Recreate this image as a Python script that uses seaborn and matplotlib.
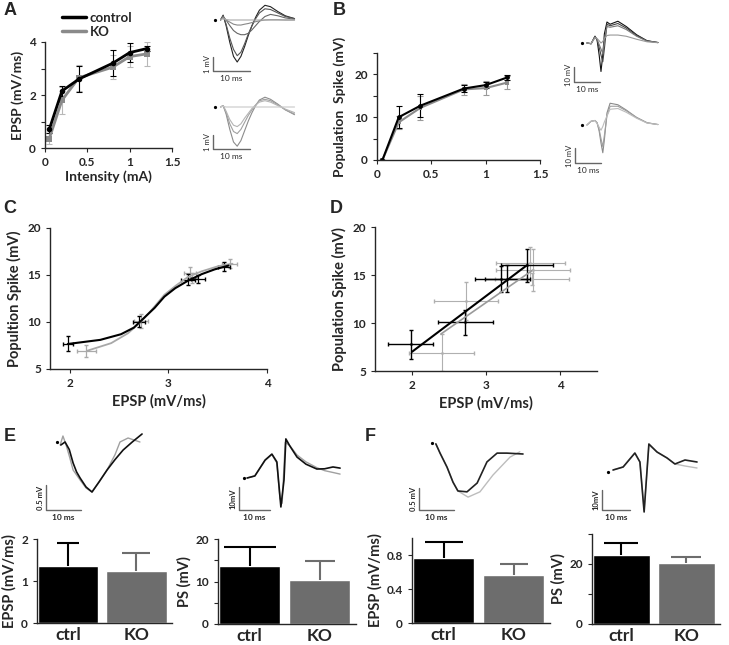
import numpy as np
import pandas as pd
import matplotlib
matplotlib.use('Agg')
import matplotlib.pyplot as plt
import seaborn as sns
from matplotlib.lines import Line2D

W, H = 729, 645

# ---- A / B: input-output curves
intensity = [0.05, 0.2, 0.4, 0.8, 1.0, 1.2]
epsp_ctrl = [0.7, 2.15, 2.6, 3.2, 3.6, 3.75]
epsp_ctrl_err = [0.15, 0.2, 0.5, 0.5, 0.35, 0.1]
epsp_ko = [0.35, 1.8, 2.65, 3.05, 3.45, 3.55]
epsp_ko_err = [0.2, 0.5, 0.5, 0.45, 0.4, 0.45]

ps_ctrl = [0.0, 10.0, 12.7, 16.7, 17.5, 19.3]
ps_ctrl_err = [0.0, 2.6, 2.7, 0.8, 0.7, 0.6]
ps_ko = [0.0, 8.8, 12.2, 16.5, 16.8, 18.1]
ps_ko_err = [0.0, 1.5, 2.8, 1.3, 1.7, 1.6]

# ---- C: E-S coupling, sigmoid fits
c_ctrl_x = [1.98, 2.7, 3.2, 3.3, 3.56]
c_ctrl_y = [7.7, 10.05, 14.5, 14.6, 15.9]
c_ctrl_xerr = [0.05, 0.06, 0.07, 0.07, 0.06]
c_ctrl_yerr = [0.8, 0.6, 0.6, 0.4, 0.5]
c_ko_x = [2.17, 2.72, 3.22, 3.24, 3.62]
c_ko_y = [6.9, 10.1, 15.2, 14.7, 16.2]
c_ko_xerr = [0.1, 0.07, 0.06, 0.05, 0.08]
c_ko_yerr = [0.6, 0.7, 0.6, 0.5, 0.5]
fit_ctrl_x = [1.98, 2.31, 2.52, 2.65, 2.75, 2.86, 2.96, 3.07, 3.2, 3.34, 3.47, 3.61]
fit_ctrl_y = [7.66, 8.1, 8.7, 9.4, 10.4, 11.5, 12.7, 13.6, 14.4, 15.1, 15.6, 16.0]
fit_ko_x = [2.18, 2.42, 2.59, 2.72, 2.84, 2.96, 3.08, 3.2, 3.34, 3.51, 3.65]
fit_ko_y = [6.95, 7.75, 8.8, 10.0, 11.4, 12.9, 13.9, 14.8, 15.4, 15.95, 16.2]

# ---- D: linear fits
d_ctrl_x = [1.98, 2.72, 3.2, 3.29, 3.55]
d_ctrl_y = [7.8, 10.1, 14.6, 14.6, 16.0]
d_ctrl_xerr = [0.3, 0.37, 0.35, 0.3, 0.35]
d_ctrl_yerr = [1.5, 1.3, 1.35, 1.4, 1.7]
d_ko_x = [2.4, 2.73, 3.6, 3.63, 3.62]
d_ko_y = [6.9, 12.3, 16.25, 15.5, 14.6]
d_ko_xerr = [0.44, 0.43, 0.47, 0.5, 0.5]
d_ko_yerr = [1.95, 2.0, 1.7, 2.2, 0.6]
lin_ctrl_x = [2.0, 3.55]
lin_ctrl_y = [7.0, 16.0]
lin_ko_x = [2.39, 3.63]
lin_ko_y = [8.85, 15.5]

# ---- E / F: bar summaries
groups = ['ctrl', 'KO']
e_epsp = [1.36, 1.25]
e_epsp_err = [0.54, 0.42]
e_ps = [13.7, 10.35]
e_ps_err = [4.5, 4.55]
f_epsp = [0.77, 0.57]
f_epsp_err = [0.18, 0.12]
f_ps = [23.0, 20.3]
f_ps_err = [4.0, 2.0]

# ---- example traces (ms, mV)
tA = [1.5, 2.2, 3.0, 4.0, 5.0, 6.0, 7.0, 8.0, 9.0, 10.0, 11.0, 12.0, 13.5, 15.0, 17.0, 19.0, 21.5]
a_ctrl_traces = [
    [0, 0.35, -0.4, -1.6, -2.6, -3.0, -2.6, -1.9, -1.1, -0.4, 0.2, 0.7, 1.05, 0.95, 0.6, 0.3, 0.1],
    [0, 0.3, -0.3, -1.3, -2.1, -2.55, -2.3, -1.7, -1.0, -0.4, 0.1, 0.5, 0.8, 0.75, 0.5, 0.25, 0.1],
    [0, 0.25, 0.0, -0.4, -0.75, -0.95, -1.05, -1.05, -0.95, -0.7, -0.4, -0.1, 0.25, 0.4, 0.3, 0.15, 0.05],
    [0, 0.2, 0.0, -0.15, -0.3, -0.36, -0.36, -0.3, -0.25, -0.18, -0.12, -0.06, 0.0, 0.02, 0.02, 0.0, 0.0],
    [0, 0.1, 0.03, 0, 0, 0, 0, 0, 0, 0, 0, 0, 0, 0, 0, 0, 0],
]
a_ko_traces = [
    [0, 0.1, -0.5, -1.6, -2.5, -2.8, -2.4, -1.7, -1.0, -0.4, 0.1, 0.5, 0.7, 0.55, 0.2, -0.2, -0.55],
    [0, 0.1, -0.4, -1.2, -1.75, -1.9, -1.6, -1.1, -0.6, -0.2, 0.15, 0.45, 0.55, 0.45, 0.15, -0.2, -0.5],
    [0, 0.1, -0.3, -0.9, -1.3, -1.4, -1.2, -0.8, -0.45, -0.1, 0.15, 0.35, 0.45, 0.35, 0.1, -0.15, -0.4],
    [0, 0.05, 0, 0, 0, 0, 0, 0, 0, 0, 0, 0, 0, 0, 0, 0, 0],
]
tB = [1.9, 3.5, 5.0, 5.8, 6.6, 7.3, 8.0, 8.6, 9.6, 10.8, 13.8, 17.0, 21.0, 25.0, 29.2]
b_ctrl_traces = [
    [0, -0.5, 4.5, 2, -8, -19, -8, 6, 14, 12.5, 14.5, 11, 5.5, 1.5, 0.3],
    [0, -0.5, 4.5, 2, -3, -8, -12.5, -4, 12.5, 11.5, 13.0, 10, 5, 1.5, 0.3],
    [0, -0.5, 4.0, 2.5, -1, -4, -7, 2, 11, 10.5, 11.5, 9, 4.5, 1.2, 0.3],
    [0, -0.3, 3.5, 3.0, 1.5, 0, 1, 3, 5, 5.3, 5.3, 4.5, 2.5, 0.8, 0.2],
]
b_ko_traces = [
    [0, 2.5, 3.0, 1.5, -4, -12, -18.5, -10, 8, 14.5, 13.5, 10, 5, 1.5, 0.3],
    [0, 2.5, 3.0, 1.5, -3, -9, -14.5, -7, 6, 12.5, 12.5, 9.5, 5, 1.5, 0.3],
    [0, 2.5, 3.0, 1.0, -1.5, -3.5, -1, 2, 6, 10.5, 11, 8.5, 4.5, 1.3, 0.3],
]
eL_t_ctrl = [1.1, 2.3, 3.5, 4.6, 5.6, 6.6, 8.3, 10.0, 12.0, 14.3, 16.6, 18.9, 21.5, 24.3]
eL_v_ctrl = [-0.06, 0.0, -0.15, -0.42, -0.6, -0.72, -0.9, -1.0, -0.8, -0.56, -0.35, -0.16, 0.0, 0.16]
eL_t_ko = [0.9, 1.7, 2.6, 3.6, 4.6, 6.6, 8.3, 10.0, 12.0, 14.3, 16.6, 18.0, 20.3, 23.7]
eL_v_ko = [-0.06, 0.12, -0.06, -0.3, -0.56, -0.76, -0.92, -1.0, -0.8, -0.56, -0.25, 0.0, 0.08, 0.0]
eR_t_ctrl = [1, 3.5, 6.8, 9, 10.6, 11.9, 12.9, 13.5, 14.8, 17.1, 20, 23.5, 26, 28.7, 31]
eR_v_ctrl = [0, 0.9, 7.8, 10.4, 7, -12.6, -0.9, 17, 13.9, 9.1, 6, 3.9, 4, 4.8, 4.3]
eR_t_ko = [1, 3.5, 6.8, 9, 10.6, 11.6, 12.3, 13.3, 14.8, 17.1, 20, 23.5, 26, 28.7, 31]
eR_v_ko = [0, 0.9, 7.6, 10.2, 6.5, -9, -11, 15.5, 14.0, 10.0, 7, 4.5, 3.2, 2.4, 1.7]
fL_t_ctrl = [1.1, 2.3, 4.3, 6.0, 7.4, 10.0, 12.9, 15.7, 18.6, 21.4, 26.0]
fL_v_ctrl = [-0.02, -0.23, -0.55, -0.89, -1.09, -1.11, -0.91, -0.43, -0.23, -0.23, -0.25]
fL_t_ko = [1.1, 2.3, 4.3, 6.0, 7.4, 10.3, 13.7, 17.4, 22.3, 25.1]
fL_v_ko = [-0.02, -0.23, -0.55, -0.89, -1.09, -1.23, -1.11, -0.73, -0.32, -0.2]
fR_t = [1.8, 5.4, 9.6, 11.4, 12.9, 14.6, 17.5, 21.1, 23.9, 27.5, 31.8]
fR_v_ctrl = [1, 2.5, 9.5, 5, -20, 14, 10, 7, 4, 6, 5]
fR_v_ko = [1, 2.5, 9.3, 5, -19, 13.5, 10, 7, 4, 3, 2]

sns.set_style('ticks')
plt.rcParams['font.family'] = ['Lato', 'DejaVu Sans']
plt.rcParams['font.weight'] = 'bold'
plt.rcParams['axes.labelweight'] = 'bold'
plt.rcParams['axes.linewidth'] = 1.0
plt.rcParams['xtick.major.size'] = 3
plt.rcParams['ytick.major.size'] = 3
plt.rcParams['xtick.labelsize'] = 8.5
plt.rcParams['ytick.labelsize'] = 8.5
plt.rcParams['axes.labelsize'] = 10

fig = plt.figure(figsize=(W / 100, H / 100), dpi=100)
pal = {'control': 'black', 'KO': '#8a8a8a'}


def px_axes(x0, y0, x1, y1):
    return fig.add_axes([x0 / W, 1 - y1 / H, (x1 - x0) / W, (y1 - y0) / H])


def inset(box, dot, pms, pmv, corner, bar_mv, bar_label, traces, bold=False):
    ax = px_axes(*box)
    bx0, by0, bx1, by1 = box
    dx, dy = dot
    ax.set_xlim((bx0 - dx) / pms, (bx1 - dx) / pms)
    ax.set_ylim(-(by1 - dy) / pmv, -(by0 - dy) / pmv)
    ax.axis('off')
    for t, v, c, lw in traces:
        ax.plot(t, v, color=c, lw=lw, clip_on=False)
    ax.plot([0], [0], 'o', ms=1.3, color='black')
    sx = (corner[0] - dx) / pms
    sy = -(corner[1] - dy) / pmv
    ax.plot([sx, sx, sx + 10], [sy + bar_mv, sy, sy], color='#666666', lw=1)
    w = 'bold' if bold else 'normal'
    ax.annotate(bar_label, (sx, sy + bar_mv / 2), xytext=(-1.5, 0), textcoords='offset points',
                rotation=90, ha='right', va='center', fontsize=5.5, weight=w)
    ax.annotate('10 ms', (sx + 5, sy), xytext=(0, -3), textcoords='offset points',
                ha='center', va='top', fontsize=6, weight=w)
    return ax


# ---------------- A
axA = px_axes(45, 42, 172, 148)
dfA = pd.DataFrame({'intensity': intensity * 2, 'value': epsp_ctrl + epsp_ko,
                    'group': ['control'] * 6 + ['KO'] * 6})
axA.errorbar(intensity, epsp_ko, yerr=epsp_ko_err, fmt='none', ecolor='#b8b8b8',
             elinewidth=0.8, capsize=2, capthick=0.8)
axA.errorbar(intensity, epsp_ctrl, yerr=epsp_ctrl_err, fmt='none', ecolor='black',
             elinewidth=0.8, capsize=2, capthick=0.8)
sns.lineplot(data=dfA, x='intensity', y='value', hue='group', style='group',
             hue_order=['KO', 'control'], markers={'control': 'o', 'KO': 's'}, dashes=False,
             palette=pal, linewidth=2, markersize=4, markeredgewidth=0, legend=False, ax=axA)
axA.set_xlim(0, 1.5)
axA.set_ylim(0, 4)
axA.set_xticks([0, 0.5, 1, 1.5], ['0', '0.5', '1', '1.5'])
axA.set_yticks([0, 1, 2, 3, 4], ['0', '', '2', '', '4'])
axA.set_xlabel('Intensity (mA)', labelpad=2)
axA.set_ylabel('EPSP (mV/ms)', labelpad=4)
sns.despine(ax=axA)
handles = [Line2D([], [], color='black', lw=2.5), Line2D([], [], color='#8a8a8a', lw=2.5)]
fig.legend(handles, ['control', 'KO'], loc='upper left', bbox_to_anchor=(50 / W, 1 - 0 / H),
           frameon=False, handlelength=1.8, handletextpad=0.3, labelspacing=0.15,
           prop={'size': 9.5, 'weight': 'bold'})

inset((195, 0, 300, 88), (215, 20), 3.7, 14, (213, 71), 1, '1 mV',
      [(tA, v, c, 0.8) for v, c in zip(a_ctrl_traces, ['#222222', '#555555', '#666666', '#888888', '#aaaaaa'])])
inset((195, 88, 300, 175), (215, 107), 3.7, 14, (213, 149), 1, '1 mV',
      [(tA, v, c, 0.8) for v, c in zip(a_ko_traces, ['#8c8c8c', '#a0a0a0', '#b4b4b4', '#c8c8c8'])])

# ---------------- B
axB = px_axes(377, 53, 540, 160)
dfB = pd.DataFrame({'intensity': intensity * 2, 'value': ps_ctrl + ps_ko,
                    'group': ['control'] * 6 + ['KO'] * 6})
axB.errorbar(intensity, ps_ko, yerr=ps_ko_err, fmt='none', ecolor='#9a9a9a',
             elinewidth=0.8, capsize=2, capthick=0.8)
axB.errorbar(intensity, ps_ctrl, yerr=ps_ctrl_err, fmt='none', ecolor='black',
             elinewidth=0.8, capsize=2, capthick=0.8)
sns.lineplot(data=dfB, x='intensity', y='value', hue='group', style='group',
             hue_order=['KO', 'control'], markers={'control': 'o', 'KO': 's'}, dashes=False,
             palette=pal, linewidth=1.5, markersize=3.5, markeredgewidth=0, legend=False, ax=axB)
axB.set_xlim(0, 1.5)
axB.set_ylim(0, 25)
axB.set_xticks([0, 0.5, 1, 1.5], ['0', '0.5', '1', '1.5'])
axB.set_yticks([0, 5, 10, 15, 20, 25], ['0', '', '10', '', '20', ''])
axB.set_xlabel('')
axB.set_ylabel('Population  Spike (mV)', labelpad=6)
sns.despine(ax=axB)

inset((560, 15, 665, 95), (582, 43), 2.6, 1.5, (574, 82), 10, '10 mV',
      [(tB, v, c, 0.8) for v, c in zip(b_ctrl_traces, ['#111111', '#444444', '#777777', '#999999'])])
inset((560, 95, 665, 178), (582, 125), 2.6, 1.5, (575, 163), 10, '10 mV',
      [(tB, v, c, 0.8) for v, c in zip(b_ko_traces, ['#8a8a8a', '#9f9f9f', '#bcbcbc'])])

# ---------------- C
axC = px_axes(50, 228, 267, 369)
axC.errorbar(c_ko_x, c_ko_y, xerr=c_ko_xerr, yerr=c_ko_yerr, fmt='none', ecolor='#aaaaaa',
             elinewidth=0.9, capsize=1.5)
axC.errorbar(c_ctrl_x, c_ctrl_y, xerr=c_ctrl_xerr, yerr=c_ctrl_yerr, fmt='none', ecolor='black',
             elinewidth=0.9, capsize=1.5)
sns.lineplot(x=fit_ko_x, y=fit_ko_y, color='#a8a8a8', linewidth=1.3, ax=axC)
sns.lineplot(x=fit_ctrl_x, y=fit_ctrl_y, color='black', linewidth=1.5, ax=axC)
axC.set_xlim(1.8, 4.0)
axC.set_ylim(5, 20)
axC.set_xticks([2, 3, 4])
axC.set_yticks([5, 10, 15, 20])
axC.set_xlabel('EPSP (mV/ms)', fontsize=10.5)
axC.set_ylabel('Popultion Spike (mV)', fontsize=10.5)
sns.despine(ax=axC)

# ---------------- D
axD = px_axes(375, 227, 597, 371)
axD.errorbar(d_ko_x, d_ko_y, xerr=d_ko_xerr, yerr=d_ko_yerr, fmt='.', color='#b0b0b0',
             ms=2, elinewidth=0.8, capsize=1.5)
axD.errorbar(d_ctrl_x, d_ctrl_y, xerr=d_ctrl_xerr, yerr=d_ctrl_yerr, fmt='.', color='black',
             ms=2, elinewidth=1.0, capsize=1.5)
sns.lineplot(x=lin_ko_x, y=lin_ko_y, color='#9a9a9a', linewidth=1.2, ax=axD)
sns.lineplot(x=lin_ctrl_x, y=lin_ctrl_y, color='black', linewidth=1.5, ax=axD)
axD.set_xlim(1.5, 4.5)
axD.set_ylim(5, 20)
axD.set_xticks([2, 3, 4])
axD.set_yticks([5, 10, 15, 20])
axD.set_xlabel('EPSP (mV/ms)', fontsize=10.5)
axD.set_ylabel('Population Spike (mV)', fontsize=10.5)
sns.despine(ax=axD)


# ---------------- E / F bars
def bars(box, vals, errs, ylim, ticks, labels, ylabel, caps, ko_color='#6d6d6d'):
    ax = px_axes(*box)
    sns.barplot(x=groups, y=vals, hue=groups, palette=['black', ko_color], width=0.88,
                legend=False, ax=ax)
    for i, col in enumerate(['black', ko_color]):
        eb = ax.errorbar([i], [vals[i]], yerr=[[0], [errs[i]]], fmt='none', ecolor=col,
                         elinewidth=1.5, capsize=caps[i], capthick=1.5)
        for cap in eb[1]:
            if np.allclose(cap.get_ydata(), vals[i]):
                cap.set_visible(False)
    ax.set_xlim(-0.45, 1.52)
    ax.set_ylim(*ylim)
    ax.set_yticks(ticks, labels)
    ax.tick_params(axis='x', length=0, labelsize=12.5, pad=3)
    ax.set_ylabel(ylabel, fontsize=10.5, labelpad=3)
    sns.despine(ax=ax)
    return ax


bars((37, 539, 172, 623), e_epsp, e_epsp_err, (0, 2), [0, 1, 2], ['0', '1', '2'],
     'EPSP (mV/ms)', (8, 10))
bars((218, 539, 356, 624), e_ps, e_ps_err, (0, 20), [0, 5, 10, 15, 20],
     ['0', '', '10', '', '20'], 'PS (mV)', (19, 11))
bars((412, 538, 550, 623), f_epsp, f_epsp_err, (0, 1.0), [0, 0.4, 0.8], ['0', '0.4', '0.8'],
     'EPSP (mV/ms)', (14, 10))
bars((592, 534, 720, 624), f_ps, f_ps_err, (0, 30), [0, 10, 20, 30], ['0', '', '20', ''],
     'PS (mV)', (12, 11))

inset((35, 428, 150, 528), (57, 442), 3.5, 50, (46, 510), 0.5, '0.5 mV',
      [(eL_t_ko, eL_v_ko, '#a0a0a0', 1.0), (eL_t_ctrl, eL_v_ctrl, '#111111', 1.2)], bold=True)
inset((225, 430, 345, 528), (244, 478), 3.1, 2.3, (239, 510), 10, '10mV',
      [(eR_t_ko, eR_v_ko, '#a0a0a0', 1.0), (eR_t_ctrl, eR_v_ctrl, '#111111', 1.2)], bold=True)
inset((405, 428, 530, 528), (432, 443), 3.5, 44, (419, 510), 0.5, '0.5 mV',
      [(fL_t_ko, fL_v_ko, '#bdbdbd', 1.0), (fL_t_ctrl, fL_v_ctrl, '#222222', 1.2)], bold=True)
inset((590, 430, 705, 528), (608, 472), 2.8, 2.0, (602, 510), 10, '10mV',
      [(fR_t, fR_v_ko, '#bdbdbd', 1.0), (fR_t, fR_v_ctrl, '#222222', 1.2)], bold=True)

# panel letters
for letter, x, y in [('A', 4, 2), ('B', 333, 2), ('C', 3, 200), ('D', 330, 200),
                     ('E', 4, 428), ('F', 365, 428)]:
    fig.text(x / W, 1 - y / H, letter, fontsize=13, weight='bold', va='top',
             family=['Liberation Sans', 'DejaVu Sans'])

fig.savefig('out.png', dpi=100)
